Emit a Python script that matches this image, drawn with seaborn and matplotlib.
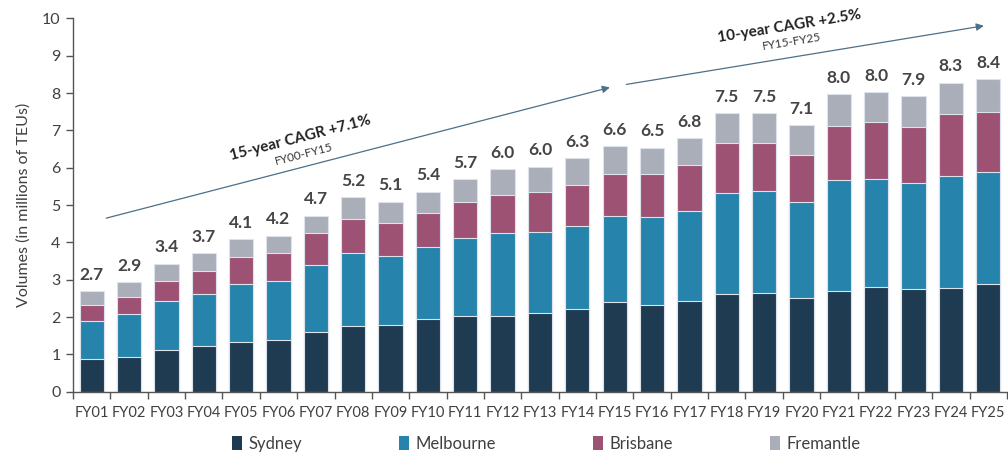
import matplotlib
matplotlib.use("Agg")
import matplotlib.pyplot as plt
import numpy as np
import pandas as pd
import seaborn as sns
from matplotlib.patches import Patch

# Container volumes by port, millions of TEUs
years = ["FY01", "FY02", "FY03", "FY04", "FY05", "FY06", "FY07", "FY08", "FY09",
         "FY10", "FY11", "FY12", "FY13", "FY14", "FY15", "FY16", "FY17", "FY18",
         "FY19", "FY20", "FY21", "FY22", "FY23", "FY24", "FY25"]
sydney = [0.89, 0.94, 1.11, 1.22, 1.33, 1.40, 1.61, 1.77, 1.80, 1.94, 2.03, 2.03, 2.12,
          2.22, 2.41, 2.33, 2.44, 2.63, 2.65, 2.50, 2.71, 2.81, 2.74, 2.79, 2.88]
melbourne = [1.00, 1.14, 1.32, 1.39, 1.56, 1.58, 1.79, 1.94, 1.84, 1.94, 2.09, 2.23, 2.17,
             2.22, 2.29, 2.34, 2.41, 2.70, 2.72, 2.58, 2.96, 2.90, 2.85, 2.98, 3.01]
brisbane = [0.44, 0.47, 0.55, 0.63, 0.71, 0.73, 0.85, 0.93, 0.89, 0.92, 0.97, 1.02, 1.07,
            1.10, 1.14, 1.15, 1.22, 1.34, 1.30, 1.27, 1.45, 1.52, 1.51, 1.66, 1.60]
fremantle = [0.36, 0.39, 0.45, 0.48, 0.48, 0.47, 0.47, 0.58, 0.56, 0.56, 0.61, 0.69, 0.67,
             0.72, 0.74, 0.72, 0.72, 0.79, 0.80, 0.79, 0.85, 0.80, 0.82, 0.85, 0.89]
ports = ["Sydney", "Melbourne", "Brisbane", "Fremantle"]
colors = ["#1f3b51", "#2683ac", "#9e5273", "#a9aeb9"]

df = pd.DataFrame({"year": years, "Sydney": sydney, "Melbourne": melbourne,
                   "Brisbane": brisbane, "Fremantle": fremantle})
# cumulative tops for stacking
cum = df[ports].cumsum(axis=1)
df_cum = pd.concat([df[["year"]], cum], axis=1)
totals = cum["Fremantle"].values

sns.set_theme(style="white")
plt.rcParams["font.family"] = ["Lato", "DejaVu Sans"]

fig = plt.figure(figsize=(10.08, 4.58), dpi=100)
ax = fig.add_axes([0.0724, 0.1445, 0.9266, 0.8155])

# draw tallest (cumulative) first, then overlay lower stacks
for port, col in zip(ports[::-1], colors[::-1]):
    sns.barplot(data=df_cum, x="year", y=port, color=col, width=0.65,
                saturation=1, edgecolor="#dde3ea", linewidth=0.8, ax=ax)

for i, t in enumerate(totals):
    ax.text(i, t + 0.22, f"{t:.1f}", ha="center", va="bottom", fontsize=12.5,
            fontweight="bold", color="#454545")

ax.set_xlim(-0.5, len(years) - 0.5)
ax.set_ylim(0, 10)
ax.set_yticks(range(0, 11))
ax.set_xlabel("")
ax.set_ylabel("Volumes (in millions of TEUs)", fontsize=11.5, color="#404040",
              labelpad=8)

for s in ["top", "right"]:
    ax.spines[s].set_visible(False)
for s in ["left", "bottom"]:
    ax.spines[s].set_color("#555555")
    ax.spines[s].set_linewidth(1.0)

ax.set_xticks(np.arange(-0.5, len(years), 1.0), minor=True)
ax.tick_params(axis="x", which="major", length=0, pad=10, labelsize=10.5,
               labelcolor="#404040")
ax.tick_params(axis="x", which="minor", length=5, color="#555555", width=1,
               direction="out", bottom=True)
ax.tick_params(axis="y", length=5, color="#555555", width=1, direction="out",
               left=True, labelsize=11.5, labelcolor="#404040", pad=4)

# growth trend arrows
arrow_kw = dict(arrowstyle="-|>", color="#4d7088", lw=0.9, mutation_scale=11,
                shrinkA=0, shrinkB=0)
ax.annotate("", xy=(13.87, 8.15), xytext=(0.39, 4.65), arrowprops=arrow_kw)
ax.annotate("", xy=(23.88, 9.80), xytext=(14.31, 8.23), arrowprops=arrow_kw)

ax.text(5.58, 6.80, "15-year CAGR +7.1%", rotation=14.5, ha="center", va="center",
        fontsize=11, fontweight="bold", color="#222222", rotation_mode="anchor")
ax.text(5.69, 6.37, "FY00-FY15", rotation=14.5, ha="center", va="center",
        fontsize=8.5, color="#333333", rotation_mode="anchor")
ax.text(18.69, 9.79, "10-year CAGR +2.5%", rotation=9.3, ha="center", va="center",
        fontsize=11, fontweight="bold", color="#222222", rotation_mode="anchor")
ax.text(18.74, 9.37, "FY15-FY25", rotation=9.3, ha="center", va="center",
        fontsize=8.5, color="#333333", rotation_mode="anchor")

handles = [Patch(facecolor=c, edgecolor="none") for c in colors]
leg = fig.legend(handles, ports, loc="center", bbox_to_anchor=(0.542, 0.031),
                 ncol=4, frameon=False, handlelength=0.6, handleheight=0.9,
                 handletextpad=0.4, columnspacing=5.8, fontsize=12)
for t in leg.get_texts():
    t.set_color("#404040")

fig.savefig("out.png", dpi=100)
